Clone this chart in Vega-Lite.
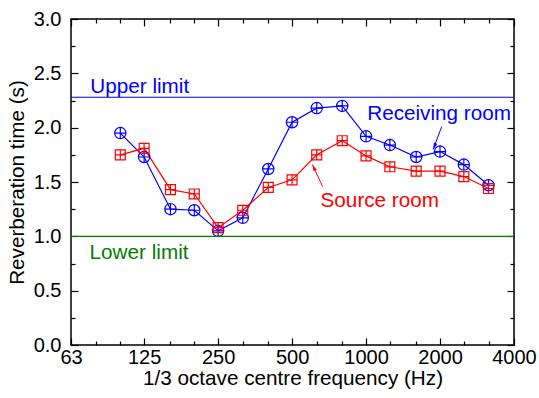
{
  "$schema": "https://vega.github.io/schema/vega-lite/v6.json",
  "width": 443,
  "height": 326,
  "autosize": {"type": "none"},
  "padding": {"left": 71, "top": 19, "right": 25, "bottom": 53},
  "background": "white",
  "config": {
    "view": {"stroke": "black", "strokeWidth": 1.5},
    "font": "Liberation Sans",
    "axis": {
      "grid": false,
      "domain": false,
      "tickColor": "black",
      "tickWidth": 1.2,
      "labelColor": "black",
      "labelFont": "Liberation Sans",
      "labelFontSize": 20,
      "labelFlush": false,
      "labelOverlap": false,
      "labelBound": false,
      "titleFont": "Liberation Sans",
      "titleFontSize": 20.7,
      "titleFontWeight": "normal",
      "titleColor": "black"
    }
  },
  "datasets": {
    "rt": [
      {"freq": 100, "room": "Receiving room", "rt": 1.95},
      {"freq": 125, "room": "Receiving room", "rt": 1.73},
      {"freq": 160, "room": "Receiving room", "rt": 1.25},
      {"freq": 200, "room": "Receiving room", "rt": 1.24},
      {"freq": 250, "room": "Receiving room", "rt": 1.05},
      {"freq": 315, "room": "Receiving room", "rt": 1.17},
      {"freq": 400, "room": "Receiving room", "rt": 1.62},
      {"freq": 500, "room": "Receiving room", "rt": 2.05},
      {"freq": 630, "room": "Receiving room", "rt": 2.18},
      {"freq": 800, "room": "Receiving room", "rt": 2.2},
      {"freq": 1000, "room": "Receiving room", "rt": 1.92},
      {"freq": 1250, "room": "Receiving room", "rt": 1.84},
      {"freq": 1600, "room": "Receiving room", "rt": 1.73},
      {"freq": 2000, "room": "Receiving room", "rt": 1.78},
      {"freq": 2500, "room": "Receiving room", "rt": 1.66},
      {"freq": 3150, "room": "Receiving room", "rt": 1.47},
      {"freq": 100, "room": "Source room", "rt": 1.75},
      {"freq": 125, "room": "Source room", "rt": 1.81},
      {"freq": 160, "room": "Source room", "rt": 1.43},
      {"freq": 200, "room": "Source room", "rt": 1.39},
      {"freq": 250, "room": "Source room", "rt": 1.08},
      {"freq": 315, "room": "Source room", "rt": 1.24},
      {"freq": 400, "room": "Source room", "rt": 1.45},
      {"freq": 500, "room": "Source room", "rt": 1.52},
      {"freq": 630, "room": "Source room", "rt": 1.75},
      {"freq": 800, "room": "Source room", "rt": 1.88},
      {"freq": 1000, "room": "Source room", "rt": 1.74},
      {"freq": 1250, "room": "Source room", "rt": 1.64},
      {"freq": 1600, "room": "Source room", "rt": 1.6},
      {"freq": 2000, "room": "Source room", "rt": 1.6},
      {"freq": 2500, "room": "Source room", "rt": 1.55},
      {"freq": 3150, "room": "Source room", "rt": 1.44}
    ],
    "limits": [
      {"label": "Upper limit", "value": 2.28},
      {"label": "Lower limit", "value": 1.0}
    ],
    "notes": [
      {"label": "Upper limit", "freq": 75.5, "value": 2.32},
      {"label": "Lower limit", "freq": 75.0, "value": 0.79},
      {"label": "Receiving room", "freq": 1011, "value": 2.07},
      {"label": "Source room", "freq": 653, "value": 1.267}
    ],
    "arrows": [
      {"label": "Receiving room", "freq": 2032, "value": 2.01, "freq2": 1875, "value2": 1.8},
      {"label": "Source room", "freq": 666, "value": 1.458, "freq2": 605, "value2": 1.66}
    ]
  },
  "resolve": {"axis": {"x": "independent", "y": "independent"}},
  "layer": [
    {
      "data": {"name": "rt"},
      "mark": {"type": "line", "strokeWidth": 1.2},
      "encoding": {
        "x": {
          "field": "freq", "type": "quantitative",
          "scale": {"type": "log", "domain": [63, 4000], "nice": false},
          "axis": {
            "orient": "bottom",
            "values": [63, 125, 250, 500, 1000, 2000, 4000],
            "format": "d",
            "tickSize": -7,
            "labelPadding": 9,
            "title": "1/3 octave centre frequency (Hz)",
            "titlePadding": 1
          }
        },
        "y": {
          "field": "rt", "type": "quantitative",
          "scale": {"domain": [0, 3], "nice": false, "zero": true},
          "axis": {
            "orient": "left",
            "values": [0, 0.5, 1, 1.5, 2, 2.5, 3],
            "format": ".1f",
            "tickSize": -7,
            "labelPadding": 17,
            "title": "Reverberation time (s)",
            "titlePadding": 6
          }
        },
        "color": {
          "field": "room", "type": "nominal", "legend": null,
          "scale": {
            "domain": ["Receiving room", "Source room", "Upper limit", "Lower limit"],
            "range": ["#0000ff", "#ff0000", "#0000ff", "#008000"]
          }
        }
      }
    },
    {
      "data": {"name": "rt"},
      "mark": {"type": "point", "filled": false, "strokeWidth": 1.2, "opacity": 1, "size": 128},
      "encoding": {
        "x": {
          "field": "freq", "type": "quantitative",
          "scale": {"type": "log", "domain": [63, 4000], "nice": false},
          "axis": {
            "orient": "bottom",
            "values": [80, 100, 160, 200, 315, 400, 630, 800, 1250, 1600, 2500, 3150],
            "tickSize": -4, "labels": false, "title": null
          }
        },
        "y": {
          "field": "rt", "type": "quantitative",
          "scale": {"domain": [0, 3], "nice": false, "zero": true},
          "axis": {
            "orient": "left",
            "values": [0.25, 0.75, 1.25, 1.75, 2.25, 2.75],
            "tickSize": -4, "labels": false, "title": null
          }
        },
        "color": {
          "field": "room", "type": "nominal", "legend": null,
          "scale": {
            "domain": ["Receiving room", "Source room", "Upper limit", "Lower limit"],
            "range": ["#0000ff", "#ff0000", "#0000ff", "#008000"]
          }
        },
        "shape": {
          "field": "room", "type": "nominal", "legend": null,
          "scale": {
            "domain": ["Receiving room", "Source room"],
            "range": [
              "M-1,0A1,1,0,1,1,1,0A1,1,0,1,1,-1,0ZM-1,0H1M0,-1V1",
              "M-0.88,-0.88H0.88V0.88H-0.88ZM-0.88,0H0.88M0,-0.88V0.88"
            ]
          }
        }
      }
    },
    {
      "data": {"name": "limits"},
      "mark": {"type": "rule", "strokeWidth": 1.2},
      "encoding": {
        "y": {
          "field": "value", "type": "quantitative",
          "scale": {"domain": [0, 3], "nice": false, "zero": true},
          "axis": {
            "orient": "right",
            "values": [0, 0.5, 1, 1.5, 2, 2.5, 3],
            "tickSize": -7, "labels": false, "title": null
          }
        },
        "color": {
          "field": "label", "type": "nominal", "legend": null,
          "scale": {
            "domain": ["Receiving room", "Source room", "Upper limit", "Lower limit"],
            "range": ["#0000ff", "#ff0000", "#0000ff", "#008000"]
          }
        }
      }
    },
    {
      "data": {"name": "notes"},
      "mark": {"type": "text", "align": "left", "baseline": "alphabetic", "fontSize": 20.7, "font": "Liberation Sans"},
      "encoding": {
        "x": {
          "field": "freq", "type": "quantitative",
          "scale": {"type": "log", "domain": [63, 4000], "nice": false},
          "axis": {
            "orient": "top",
            "values": [63, 125, 250, 500, 1000, 2000, 4000],
            "tickSize": -7, "labels": false, "title": null
          }
        },
        "y": {
          "field": "value", "type": "quantitative",
          "scale": {"domain": [0, 3], "nice": false, "zero": true},
          "axis": {
            "orient": "right",
            "values": [0.25, 0.75, 1.25, 1.75, 2.25, 2.75],
            "tickSize": -4, "labels": false, "title": null
          }
        },
        "text": {"field": "label"},
        "color": {
          "field": "label", "type": "nominal", "legend": null,
          "scale": {
            "domain": ["Receiving room", "Source room", "Upper limit", "Lower limit"],
            "range": ["#0000ff", "#ff0000", "#0000ff", "#008000"]
          }
        }
      }
    },
    {
      "data": {"name": "arrows"},
      "mark": {"type": "rule", "strokeWidth": 1},
      "encoding": {
        "x": {
          "field": "freq", "type": "quantitative",
          "scale": {"type": "log", "domain": [63, 4000], "nice": false},
          "axis": {
            "orient": "top",
            "values": [80, 100, 160, 200, 315, 400, 630, 800, 1250, 1600, 2500, 3150],
            "tickSize": -4, "labels": false, "title": null
          }
        },
        "y": {
          "field": "value", "type": "quantitative",
          "scale": {"domain": [0, 3], "nice": false, "zero": true},
          "axis": null
        },
        "x2": {"field": "freq2"},
        "y2": {"field": "value2"},
        "color": {
          "field": "label", "type": "nominal", "legend": null,
          "scale": {
            "domain": ["Receiving room", "Source room", "Upper limit", "Lower limit"],
            "range": ["#0000ff", "#ff0000", "#0000ff", "#008000"]
          }
        }
      }
    },
    {
      "data": {"name": "arrows"},
      "transform": [{"filter": "datum.label === 'Receiving room'"}],
      "mark": {"type": "point", "filled": true, "opacity": 1, "size": 36, "angle": 202, "shape": "M0,0L0.6,2.2L-0.6,2.2Z"},
      "encoding": {
        "x": {"field": "freq2", "type": "quantitative", "scale": {"type": "log", "domain": [63, 4000], "nice": false}, "axis": null},
        "y": {"field": "value2", "type": "quantitative", "scale": {"domain": [0, 3], "nice": false, "zero": true}, "axis": null},
        "color": {
          "field": "label", "type": "nominal", "legend": null,
          "scale": {
            "domain": ["Receiving room", "Source room", "Upper limit", "Lower limit"],
            "range": ["#0000ff", "#ff0000", "#0000ff", "#008000"]
          }
        }
      }
    },
    {
      "data": {"name": "arrows"},
      "transform": [{"filter": "datum.label === 'Source room'"}],
      "mark": {"type": "point", "filled": true, "opacity": 1, "size": 36, "angle": 335, "shape": "M0,0L0.6,2.2L-0.6,2.2Z"},
      "encoding": {
        "x": {"field": "freq2", "type": "quantitative", "scale": {"type": "log", "domain": [63, 4000], "nice": false}, "axis": null},
        "y": {"field": "value2", "type": "quantitative", "scale": {"domain": [0, 3], "nice": false, "zero": true}, "axis": null},
        "color": {
          "field": "label", "type": "nominal", "legend": null,
          "scale": {
            "domain": ["Receiving room", "Source room", "Upper limit", "Lower limit"],
            "range": ["#0000ff", "#ff0000", "#0000ff", "#008000"]
          }
        }
      }
    }
  ]
}
